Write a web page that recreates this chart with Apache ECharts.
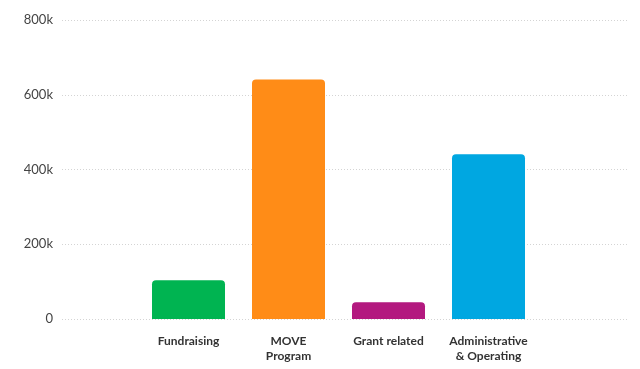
<!DOCTYPE html>
<html>
<head>
<meta charset="utf-8">
<script src="https://cdn.jsdelivr.net/npm/echarts@6/dist/echarts.min.js"></script>
<style>html,body{margin:0;padding:0;background:#fff}#c{width:640px;height:369px}</style>
</head>
<body>
<div id="c"></div>
<script>
var categories = ['Fundraising', 'MOVE\nProgram', 'Grant related', 'Administrative\n& Operating'];
var values = [104000, 641000, 45000, 441000];
var barColors = ['#00B451', '#FF8C17', '#B3197F', '#00A7E1'];
var yMin = 0, yMax = 800000, yStep = 200000;

var chart = echarts.init(document.getElementById('c'), null, {renderer: 'canvas'});
var font = 'Lato, "Open Sans", sans-serif';
chart.setOption({
  animation: false,
  grid: [
    {left: 62, right: 13, top: 20, bottom: 50},
    {left: 138.5, width: 400, top: 20, bottom: 50}
  ],
  xAxis: [
    {type: 'category', gridIndex: 0, data: [''], show: false},
    {type: 'category', gridIndex: 1, data: categories,
     axisLine: {show: false}, axisTick: {show: false},
     axisLabel: {color: '#333', fontFamily: font, fontSize: 12, fontWeight: 'bold', margin: 15, lineHeight: 15, interval: 0}}
  ],
  yAxis: [
    {type: 'value', gridIndex: 0, min: yMin, max: yMax, interval: yStep,
     axisLine: {show: false}, axisTick: {show: false},
     axisLabel: {color: '#444', fontFamily: font, fontSize: 13, margin: 9,
       formatter: function (v) { return v === 0 ? '0' : (v / 1000) + 'k'; }},
     splitLine: {show: true, lineStyle: {color: '#d4d4d4', type: [1, 2], width: 1}}},
    {type: 'value', gridIndex: 1, min: yMin, max: yMax, interval: yStep, show: false, splitLine: {show: false}}
  ],
  series: [{
    type: 'bar', xAxisIndex: 1, yAxisIndex: 1,
    barWidth: 73,
    data: values.map(function (v, i) {
      return {value: v, itemStyle: {color: barColors[i], borderRadius: [4, 4, 0, 0]}};
    })
  }]
});
</script>
</body>
</html>
